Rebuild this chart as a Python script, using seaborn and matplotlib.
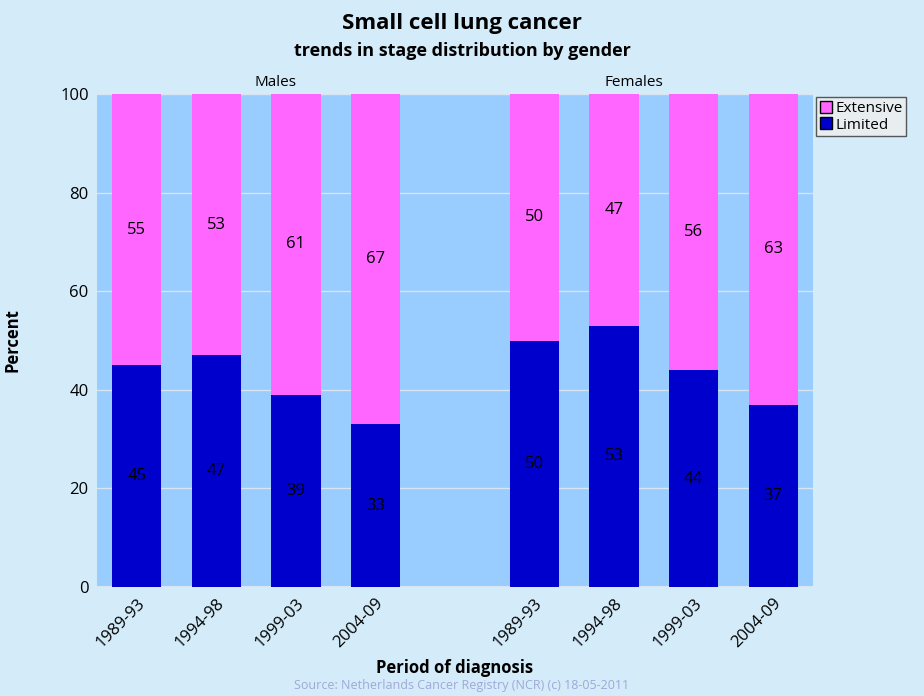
import pandas as pd
import matplotlib.pyplot as plt
import seaborn as sns
from matplotlib.patches import Patch

# data
periods = ['1989-93', '1994-98', '1999-03', '2004-09']
genders = ['Males', 'Females']
limited_males = [45, 47, 39, 33]
limited_females = [50, 53, 44, 37]
extensive_males = [55, 53, 61, 67]
extensive_females = [50, 47, 56, 63]

# slot positions on the x axis (one empty slot between genders)
slots = [0, 1, 2, 3, 5, 6, 7, 8]

df = pd.DataFrame({
    'pos': slots,
    'period': periods * 2,
    'gender': [g for g in genders for _ in periods],
    'Limited': limited_males + limited_females,
    'Extensive': extensive_males + extensive_females,
})

sns.set_theme(style='white')
plt.rcParams['font.family'] = ['Open Sans', 'DejaVu Sans']
plt.rcParams['text.color'] = 'black'
plt.rcParams['xtick.color'] = 'black'
plt.rcParams['ytick.color'] = 'black'
plt.rcParams['axes.labelcolor'] = 'black'

BG = '#d4ecf9'
PLOT_BG = '#99ccff'
EXT = '#ff66ff'
LIM = '#0000cc'

fig = plt.figure(figsize=(9.24, 6.96), dpi=100, facecolor=BG)
ax = fig.add_axes([97 / 924, 1 - 587 / 696, 716 / 924, 493 / 696])
ax.set_facecolor(PLOT_BG)

width = 0.62
sns.barplot(data=df, x='pos', y='Limited', native_scale=True, color=LIM,
            width=width, saturation=1, ax=ax, zorder=3, linewidth=0)
sns.barplot(data=df, x='pos', y='Extensive', native_scale=True, color=EXT,
            width=width, saturation=1, ax=ax, zorder=3, linewidth=0,
            bottom=df['Limited'].values)

for _, r in df.iterrows():
    ax.text(r['pos'], r['Limited'] / 2, f"{r['Limited']}", ha='center',
            va='center', fontsize=12, color='black', zorder=4)
    ax.text(r['pos'], r['Limited'] + r['Extensive'] / 2, f"{r['Extensive']}",
            ha='center', va='center', fontsize=12, color='black', zorder=4)

ax.set_xlim(-0.5, 8.5)
ax.set_ylim(0, 100)
ax.set_yticks(range(0, 101, 20))
ax.set_xticks(slots)
ax.set_xticklabels(periods * 2, rotation=45, ha='right', rotation_mode='anchor',
                   fontsize=12)
ax.tick_params(axis='y', labelsize=12, length=0, pad=6)
ax.tick_params(axis='x', length=0, pad=6)
ax.grid(axis='y', color='#d8e4f0', linewidth=1, zorder=0)
for s in ax.spines.values():
    s.set_visible(False)
ax.axhline(0, color='#d8e4f0', linewidth=1.5, zorder=2)

ax.set_xlabel('Period of diagnosis', fontsize=12, fontweight='bold')
ax.set_ylabel('Percent', fontsize=12, fontweight='bold')
ax.xaxis.set_label_coords(0.5, -(668 - 587) / 493, transform=ax.transAxes)
ax.yaxis.set_label_coords(-(97 - 12) / 716, 0.5)
ax.xaxis.label.set_va('center')
ax.yaxis.label.set_va('center')

# group headers
ax.text(0.25, 1.008, 'Males', transform=ax.transAxes, ha='center', va='bottom',
        fontsize=11)
ax.text(0.75, 1.008, 'Females', transform=ax.transAxes, ha='center', va='bottom',
        fontsize=11)

fig.text(0.5, 1 - 23 / 696, 'Small cell lung cancer', ha='center', va='center',
         fontsize=16, fontweight='bold')
fig.text(0.5, 1 - 51 / 696, 'trends in stage distribution by gender',
         ha='center', va='center', fontsize=13, fontweight='bold')
fig.text(0.5, 1 - 686 / 696,
         'Source: Netherlands Cancer Registry (NCR) (c) 18-05-2011',
         ha='center', va='center', fontsize=9, color='#a0a8d8')

handles = [Patch(facecolor=EXT, edgecolor='black', label='Extensive'),
           Patch(facecolor=LIM, edgecolor='black', label='Limited')]
leg = fig.legend(handles=handles, loc='upper left',
                 bbox_to_anchor=(816 / 924, 1 - 97 / 696), fontsize=11,
                 frameon=True, fancybox=False, handlelength=0.8,
                 handleheight=0.8, handletextpad=0.2, labelspacing=0.1,
                 borderpad=0.25, borderaxespad=0)
leg.get_frame().set_facecolor('#eeeeee')
leg.get_frame().set_edgecolor('#333333')
leg.get_frame().set_linewidth(1)

fig.savefig('out.png', dpi=100, facecolor=BG)
